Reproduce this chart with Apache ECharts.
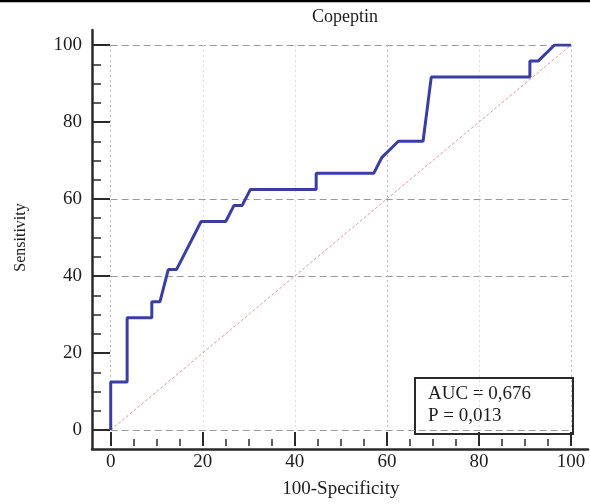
<!DOCTYPE html>
<html>
<head>
<meta charset="utf-8">
<style>
  html, body { margin: 0; padding: 0; background: #fff; }
  #chart { width: 590px; height: 504px; }
</style>
<script src="https://cdn.jsdelivr.net/npm/echarts@6/dist/echarts.min.js"></script>
</head>
<body>
<div id="chart"></div>
<script>
// ROC curve for Copeptin
const rocX = [0, 0, 3.57, 3.57, 8.93, 8.93, 10.71, 12.5, 14.29, 19.64, 25, 26.79, 28.57, 30.36,
  44.64, 44.64, 57.14, 58.93, 62.5, 67.86, 69.64, 91.07, 91.07, 92.86, 96.43, 100];
const rocY = [0, 12.5, 12.5, 29.17, 29.17, 33.33, 33.33, 41.67, 41.67, 54.17, 54.17, 58.33, 58.33, 62.5,
  62.5, 66.67, 66.67, 70.83, 75, 75, 91.67, 91.67, 95.83, 95.83, 100, 100];
const diagonal = [[0, 0], [100, 100]];
const chartTitle = 'Copeptin';
const xName = '100-Specificity';
const yName = 'Sensitivity';
const statLines = ['AUC = 0,676', 'P = 0,013'];

const serif = '"Liberation Serif", "DejaVu Serif", serif';
const ink = '#1c1c1c';
const axisInk = '#2a2a2a';

const chart = echarts.init(document.getElementById('chart'));

const mainAxis = (extra) => Object.assign({
  type: 'value',
  min: 0,
  max: 100,
  interval: 20,
  gridIndex: 0,
  axisLine: { show: false, onZero: false },
  nameLocation: 'middle'
}, extra);

const frameAxis = (extra) => Object.assign({
  type: 'value',
  min: -4,
  max: 104,
  gridIndex: 1,
  axisLine: { show: true, onZero: false, lineStyle: { color: axisInk, width: 2.5 } },
  axisTick: { show: false },
  axisLabel: { show: false },
  splitLine: { show: false }
}, extra);

chart.setOption({
  animation: false,
  backgroundColor: '#fff',
  title: {
    text: chartTitle,
    left: 340,
    top: 3,
    textAlign: 'center',
    textStyle: { fontFamily: serif, fontSize: 18, fontWeight: 'normal', color: ink }
  },
  grid: [
    { left: 110.7, top: 45, width: 460.3, height: 388 },
    { left: 92, top: 30, width: 496, height: 419 }
  ],
  xAxis: [
    mainAxis({
      position: 'bottom',
      offset: 16,
      name: xName,
      nameGap: 34,
      nameTextStyle: { color: ink, fontFamily: serif, fontSize: 19 },
      axisTick: { show: true, inside: true, length: 14, lineStyle: { color: axisInk, width: 2 } },
      minorTick: { show: true, splitNumber: 4, length: 7, lineStyle: { color: axisInk, width: 1.5 } },
      axisLabel: { color: ink, fontFamily: serif, fontSize: 19, margin: 7 },
      splitLine: {
        show: true,
        lineStyle: { type: [2, 3], width: 1, color: ['#b8b8b8', '#dddddd', '#dddddd', '#b8b8b8', '#dddddd', '#b8b8b8'] }
      }
    }),
    frameAxis({ position: 'bottom' })
  ],
  yAxis: [
    mainAxis({
      position: 'left',
      offset: 18.7,
      name: yName,
      nameGap: 63,
      nameTextStyle: { color: ink, fontFamily: serif, fontSize: 16 },
      axisTick: { show: true, inside: true, length: 18, lineStyle: { color: axisInk, width: 2 } },
      minorTick: { show: true, splitNumber: 4, length: 9, lineStyle: { color: axisInk, width: 1.5 } },
      axisLabel: { color: ink, fontFamily: serif, fontSize: 19, margin: 10 },
      splitLine: {
        show: true,
        lineStyle: { type: [7, 4], width: 1, color: ['#9a9a9a', 'rgba(0,0,0,0)', '#9a9a9a', '#9a9a9a', 'rgba(0,0,0,0)', '#9a9a9a'] }
      }
    }),
    frameAxis({ position: 'left' })
  ],
  series: [
    {
      type: 'line',
      xAxisIndex: 0,
      yAxisIndex: 0,
      data: diagonal,
      symbol: 'none',
      silent: true,
      lineStyle: { color: '#d99a9a', width: 1, type: [3, 2] },
      z: 2
    },
    {
      type: 'line',
      xAxisIndex: 0,
      yAxisIndex: 0,
      data: rocX.map((x, i) => [x, rocY[i]]),
      symbol: 'none',
      lineStyle: { color: '#3a3ea3', width: 3 },
      z: 3
    }
  ],
  graphic: [
    { type: 'line', shape: { x1: 0, y1: 1, x2: 590, y2: 1 }, style: { stroke: '#000', lineWidth: 2.5 } },
    {
      type: 'group',
      left: 414,
      top: 377,
      children: [
        { type: 'rect', shape: { x: 0, y: 0, width: 158, height: 56 }, style: { fill: '#fff', stroke: axisInk, lineWidth: 2 } },
        { type: 'text', x: 13, y: 7, style: { text: statLines[0], font: '19px ' + serif, fill: ink } },
        { type: 'text', x: 13, y: 29, style: { text: statLines[1], font: '19px ' + serif, fill: ink } }
      ]
    }
  ]
});
</script>
</body>
</html>
